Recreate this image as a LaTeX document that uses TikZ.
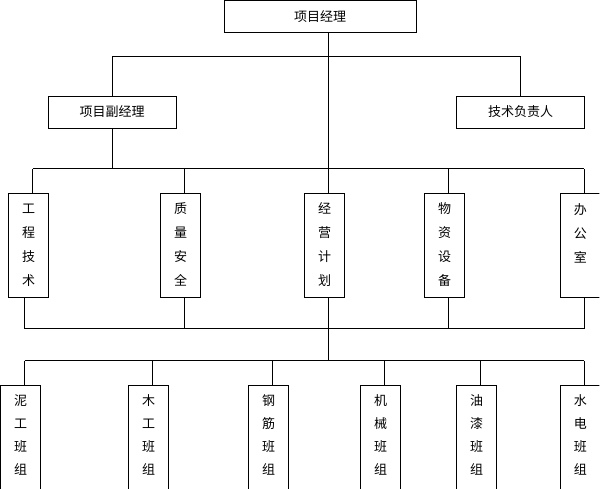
\documentclass[tikz,border=0pt]{standalone}
\usepackage{fontspec}
\newfontfamily\cjk{Noto Sans CJK SC}
\usepackage{tikz}

\begin{document}
\begin{tikzpicture}[x=1pt, y=-1pt,
    box/.style={draw, line width=0.8pt, fill=white, inner sep=0pt,
      font=\cjk\fontsize{13}{24}\selectfont},
    hbox/.style={box, minimum width=128pt, minimum height=32pt},
    vbox/.style={box, minimum width=40pt, minimum height=104pt,
      align=center, anchor=north},
    team/.style={box, minimum width=40pt, minimum height=122pt,
      align=center, anchor=north, font=\cjk\fontsize{13}{23}\selectfont},
    link/.style={line width=0.8pt}]
  \useasboundingbox (0,0) rectangle (600,488);
  \clip (0,0) rectangle (599.4,488);

  \node [hbox, minimum width=192pt] (pm) at (320,16.5) {项目经理};
  \node [hbox] (dpm) at (112,112) {项目副经理};
  \node [hbox] (tech) at (520.5,112) {技术负责人};

  \node [vbox] (gcjs) at (28.5,192.5) {工\\程\\技\\术};
  \node [vbox] (zlaq) at (180.5,192.5) {质\\量\\安\\全};
  \node [vbox] (jyjh) at (324.5,192.5) {经\\营\\计\\划};
  \node [vbox] (wzsb) at (444.5,192.5) {物\\资\\设\\备};
  \node [vbox] (bgs) at (580.3,192.5) {办\\公\\室\\~};

  \node [team] (ngbz) at (20.5,384.5) {泥\\工\\班\\组\\~};
  \node [team] (mgbz) at (148.5,384.5) {木\\工\\班\\组\\~};
  \node [team] (gjbz) at (268.5,384.5) {钢\\筋\\班\\组\\~};
  \node [team] (jxbz) at (380.5,384.5) {机\\械\\班\\组\\~};
  \node [team] (yqbz) at (476.5,384.5) {油\\漆\\班\\组\\~};
  \node [team] (sdbz) at (580.3,384.5) {水\\电\\班\\组\\~};

  \coordinate (bus1) at (0,56.5);
  \coordinate (bus2) at (0,168.5);
  \coordinate (bus3) at (0,328.5);
  \coordinate (bus4) at (0,360.5);

  % upper level
  \draw [link] (dpm.north) |- (tech.north |- bus1) -- (tech.north);
  \draw [link] (dpm.south) -- (dpm.south |- bus2);

  % departments
  \foreach \n in {gcjs,zlaq,jyjh,wzsb,bgs}{
    \coordinate (\n-t) at ([xshift=4pt]\n.north);
    \draw [link] (\n-t) -- (\n-t |- bus2);
  }
  \draw [link] (gcjs-t |- bus2) -- (bgs-t |- bus2);
  \draw [link] (pm.south -| jyjh-t) -- (jyjh-t |- bus2);

  \coordinate (gcjs-b) at ([xshift=-4pt]gcjs.south);
  \foreach \n in {zlaq,jyjh,wzsb,bgs}
    \coordinate (\n-b) at ([xshift=4pt]\n.south);
  \foreach \n in {gcjs,zlaq,jyjh,wzsb,bgs}
    \draw [link] (\n-b) -- (\n-b |- bus3);
  \draw [link] (gcjs-b |- bus3) -- (bgs-b |- bus3);
  \draw [link] (jyjh-b |- bus3) -- (jyjh-b |- bus4);

  % teams
  \foreach \n in {ngbz,mgbz,gjbz,jxbz,yqbz,sdbz}{
    \coordinate (\n-t) at ([xshift=4pt]\n.north);
    \draw [link] (\n-t) -- (\n-t |- bus4);
  }
  \draw [link] (ngbz-t |- bus4) -- (sdbz-t |- bus4);
\end{tikzpicture}
\end{document}
